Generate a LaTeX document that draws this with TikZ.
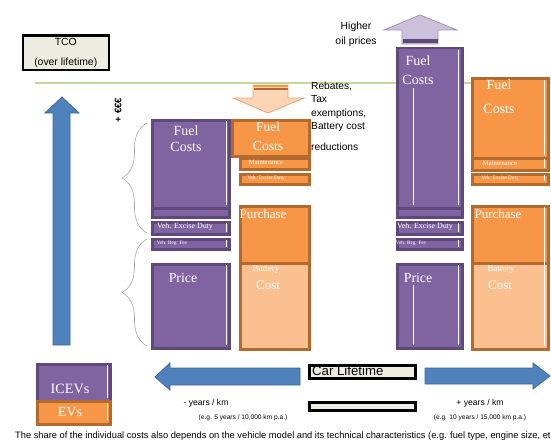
\documentclass[tikz,border=0pt]{standalone}
\usepackage{fontspec}
\setmainfont{Liberation Sans}
\newfontfamily\tnr{Liberation Serif}
\usetikzlibrary{positioning,decorations.pathreplacing}
\definecolor{icevfill}{HTML}{8064A2}
\definecolor{icevline}{HTML}{5F497A}
\definecolor{evfill}{HTML}{F79646}
\definecolor{evline}{HTML}{B46A2E}
\definecolor{battfill}{HTML}{FAC090}
\definecolor{bluefill}{HTML}{4F81BD}
\definecolor{blueline}{HTML}{3C6A9E}
\definecolor{lavfill}{HTML}{CCC0DA}
\definecolor{lavline}{HTML}{9D8FB8}
\definecolor{peachfill}{HTML}{FBD4B4}
\definecolor{peachline}{HTML}{E3A77A}
\definecolor{refgreen}{HTML}{C3D69B}
\definecolor{infofill}{HTML}{EEECE1}
\definecolor{bracegrey}{HTML}{A6A6A6}
\tikzset{
     icev/.style={draw=icevline,fill=icevfill,line width=2.5pt,anchor=north west,inner sep=0pt},
     ev/.style={draw=evline,fill=evfill,line width=2.5pt,anchor=north west,inner sep=0pt},
     battery/.style={ev,fill=battfill},
     infobox/.style={draw=black,fill=infofill,line width=2.5pt,anchor=north west,inner sep=0pt},
     inlabel/.style={text=white,inner sep=0pt,align=center},
     note/.style={inner sep=0pt,align=center},
     glint/.style={draw=white,line width=0.8pt},
     bracket/.style={draw=bracegrey,line width=0.6pt,decorate,decoration={brace,amplitude=25pt,aspect=0.5}}
     }

\begin{document}
\begin{tikzpicture}[x=1pt,y=-1pt]
    \useasboundingbox (0,0) rectangle (551,444);
    \clip (0,0) rectangle (551,444);
    % Title box and reference line
    \node[infobox,minimum width=86pt,minimum height=34pt,align=center,font=\fontsize{10.4}{20}\selectfont] (tco) at (21.5,34.5) {TCO\\(over lifetime)};
    \draw[refgreen,line width=2pt] (35,83) -- (551,83);
    % Big arrows
    \draw[blueline,fill=bluefill,line width=0.8pt] (53,345) -- (70,345) -- (70,113) -- (79,113) -- (62,97) -- (45,113) -- (53,113) -- cycle;
    \draw[peachline,fill=peachfill,line width=0.8pt] (253,85) -- (288,85) -- (288,98) -- (304,98) -- (268,113) -- (233,98) -- (253,98) -- cycle;
    \draw[evfill,line width=1.2pt] (253.5,86) -- (287.5,86);
    \draw[evline,line width=1.2pt] (253.5,89) -- (287.5,89);
    \draw[lavline,fill=lavfill,line width=0.8pt] (402,44) -- (438,44) -- (438,30) -- (457,30) -- (420,15) -- (384,30) -- (402,30) -- cycle;
    \fill[icevline] (402.5,39) rectangle (437.5,43.5);
    \draw[blueline,fill=bluefill,line width=0.8pt] (300,368) -- (170,368) -- (170,363) -- (155,377) -- (170,390) -- (170,385) -- (300,385) -- cycle;
    \draw[blueline,fill=bluefill,line width=0.8pt] (425,368) -- (533,368) -- (533,363) -- (550,376) -- (533,389) -- (533,384) -- (425,384) -- cycle;
    % Braces and axis label
    \draw[bracket] (147,233) -- (147,123);
    \draw[bracket] (147,346) -- (147,239);
    \node[rotate=90,font=\bfseries\fontsize{9.5}{10}\selectfont] (euro) at (118,110) {+ €€€};
    % Short lifetime: ICEV
    \node[icev,minimum width=77pt,minimum height=88pt] (fuelA) at (151,119) {};
    \node[icev,minimum width=77pt,minimum height=9pt] (stripA) at (151,207) {};
    \node[icev,minimum width=77pt,minimum height=12pt] (exciseA) at (151,221) {};
    \node[icev,minimum width=77pt,minimum height=10pt] (regA) at (151,238) {};
    \node[icev,minimum width=77pt,minimum height=84pt] (priceA) at (151,263) {};
    \draw[glint] (226,121) -- (226,205);
    \draw[glint] (226,223) -- (226,232);
    \draw[glint] (226,240) -- (226,247);
    \draw[glint] (226,265) -- (226,345);
    \node[inlabel,font=\tnr\fontsize{14}{16}\selectfont] at (186,139) {Fuel\\Costs};
    \node[inlabel,font=\tnr\fontsize{7.9}{8}\selectfont] at (185,227) {Veh. Excise Duty};
    \node[inlabel,font=\tnr\fontsize{5.2}{6}\selectfont] at (172,243) {Veh. Reg. Fee};
    \node[inlabel,font=\tnr\fontsize{13.8}{16}\selectfont] at (183,278) {Price};
    % Short lifetime: EV
    \node[ev,minimum width=77pt,minimum height=36pt] (fuelB) at (231,119) {};
    \node[ev,minimum width=69pt,minimum height=11pt] (maintB) at (239,157) {};
    \node[ev,minimum width=69pt,minimum height=10pt] (exciseB) at (239,173) {};
    \node[ev,minimum width=69pt,minimum height=57pt] (purchB) at (239,205) {};
    \node[battery,minimum width=69pt,minimum height=86pt] (battB) at (239,262) {};
    \node[inlabel,font=\tnr\fontsize{13.5}{19}\selectfont] at (268,136) {Fuel\\Costs};
    \node[inlabel,font=\tnr\fontsize{6.6}{7}\selectfont] at (266,162.5) {Maintenance};
    \node[inlabel,font=\tnr\fontsize{5.3}{6}\selectfont] at (266,178) {Veh. Excise Duty};
    \node[inlabel,font=\tnr\fontsize{13}{14}\selectfont] at (263,214) {Purchase};
    \node[inlabel,font=\tnr\fontsize{9.2}{10}\selectfont] at (266,269) {Battery};
    \node[inlabel,font=\tnr\fontsize{13}{16}\selectfont] at (268,285) {Cost};
    % Long lifetime: ICEV
    \node[icev,minimum width=65pt,minimum height=160pt] (fuelC) at (396,47) {};
    \node[icev,minimum width=65pt,minimum height=9pt] (stripC) at (396,207) {};
    \node[icev,minimum width=65pt,minimum height=12pt] (exciseC) at (396,221) {};
    \node[icev,minimum width=65pt,minimum height=10pt] (regC) at (396,238) {};
    \node[icev,minimum width=65pt,minimum height=84pt] (priceC) at (396,263) {};
    \draw[glint] (413,88) -- (413,205);
    \draw[glint] (458,50) -- (458,205);
    \draw[glint] (458,223) -- (458,232);
    \draw[glint] (458,240) -- (458,247);
    \draw[glint] (458,265) -- (458,345);
    \draw[glint] (413,285) -- (413,345);
    \node[inlabel,font=\tnr\fontsize{14}{19}\selectfont] at (418,70) {Fuel\\Costs};
    \node[inlabel,font=\tnr\fontsize{7.9}{8}\selectfont] at (425,227) {Veh. Excise Duty};
    \node[inlabel,font=\tnr\fontsize{5.2}{6}\selectfont] at (411,243) {Veh. Reg. Fee};
    \node[inlabel,font=\tnr\fontsize{13.8}{16}\selectfont] at (418,278) {Price};
    % Long lifetime: EV
    \node[ev,minimum width=76pt,minimum height=80pt] (fuelD) at (471,77) {};
    \node[ev,minimum width=76pt,minimum height=12pt] (maintD) at (471,157) {};
    \node[ev,minimum width=76pt,minimum height=10pt] (exciseD) at (471,173) {};
    \node[ev,minimum width=76pt,minimum height=57pt] (purchD) at (471,205) {};
    \node[battery,minimum width=76pt,minimum height=86pt] (battD) at (471,262) {};
    \draw[glint] (544,80) -- (544,155);
    \draw[glint] (544,159) -- (544,168);
    \draw[glint] (544,175) -- (544,181);
    \draw[glint] (544,207) -- (544,346);
    \node[inlabel,font=\tnr\fontsize{14}{24}\selectfont] at (499,97) {Fuel\\Costs};
    \node[inlabel,font=\tnr\fontsize{6.6}{7}\selectfont] at (500,163) {Maintenance};
    \node[inlabel,font=\tnr\fontsize{5.3}{6}\selectfont] at (500,178) {Veh. Excise Duty};
    \node[inlabel,font=\tnr\fontsize{13}{14}\selectfont] at (498,214) {Purchase};
    \node[inlabel,font=\tnr\fontsize{9.2}{10}\selectfont] at (501,269) {Battery};
    \node[inlabel,font=\tnr\fontsize{13}{16}\selectfont] at (500,285) {Cost};
    % Annotations
    \node[note,font=\fontsize{10.4}{15}\selectfont] (oil) at (356,34.5) {Higher\\oil prices};
    \node[note,anchor=north west,align=left,font=\fontsize{10.2}{13.3}\selectfont] (rebates) at (311,82) {Rebates,\\Tax\\exemptions,\\Battery cost\\[7.5pt]reductions};
    % Legend
    \node[icev,minimum width=73pt,minimum height=37pt] (icevleg) at (36,363) {};
    \node[ev,minimum width=73pt,minimum height=23pt] (evleg) at (36,400) {};
    \draw[glint] (107,365) -- (107,398);
    \draw[glint] (107,403) -- (107,420);
    \node[inlabel,font=\tnr\fontsize{14.2}{15}\selectfont] at (70,389) {ICEVs};
    \node[inlabel,font=\tnr\fontsize{14}{15}\selectfont] at (70,412) {EVs};
    % Lifetime axis
    \node[infobox,minimum width=106pt,minimum height=13pt] (life) at (308,364) {};
    \node[note,anchor=west,font=\fontsize{13.2}{14}\selectfont] at (312,370.5) {Car Lifetime};
    \node[infobox,minimum width=106pt,minimum height=8pt] (blank) at (308,401) {};
    \node[note,font=\fontsize{8.6}{10}\selectfont] (short) at (206,403) {- years / km};
    \node[note,font=\fontsize{6.6}{7}\selectfont] at (243,418) {(e.g. 5 years / 10,000 km p.a.)};
    \node[note,font=\fontsize{8.6}{10}\selectfont] (long) at (480,403) {+ years / km};
    \node[note,font=\fontsize{6.6}{7}\selectfont] at (480,418) {(e.g. 10 years / 15,000 km p.a.)};
    \node[note,anchor=west,font=\fontsize{9.3}{10}\selectfont] (footer) at (15,436) {The share of the individual costs also depends on the vehicle model and its technical characteristics (e.g. fuel type, engine size, et};
\end{tikzpicture}
\end{document}
